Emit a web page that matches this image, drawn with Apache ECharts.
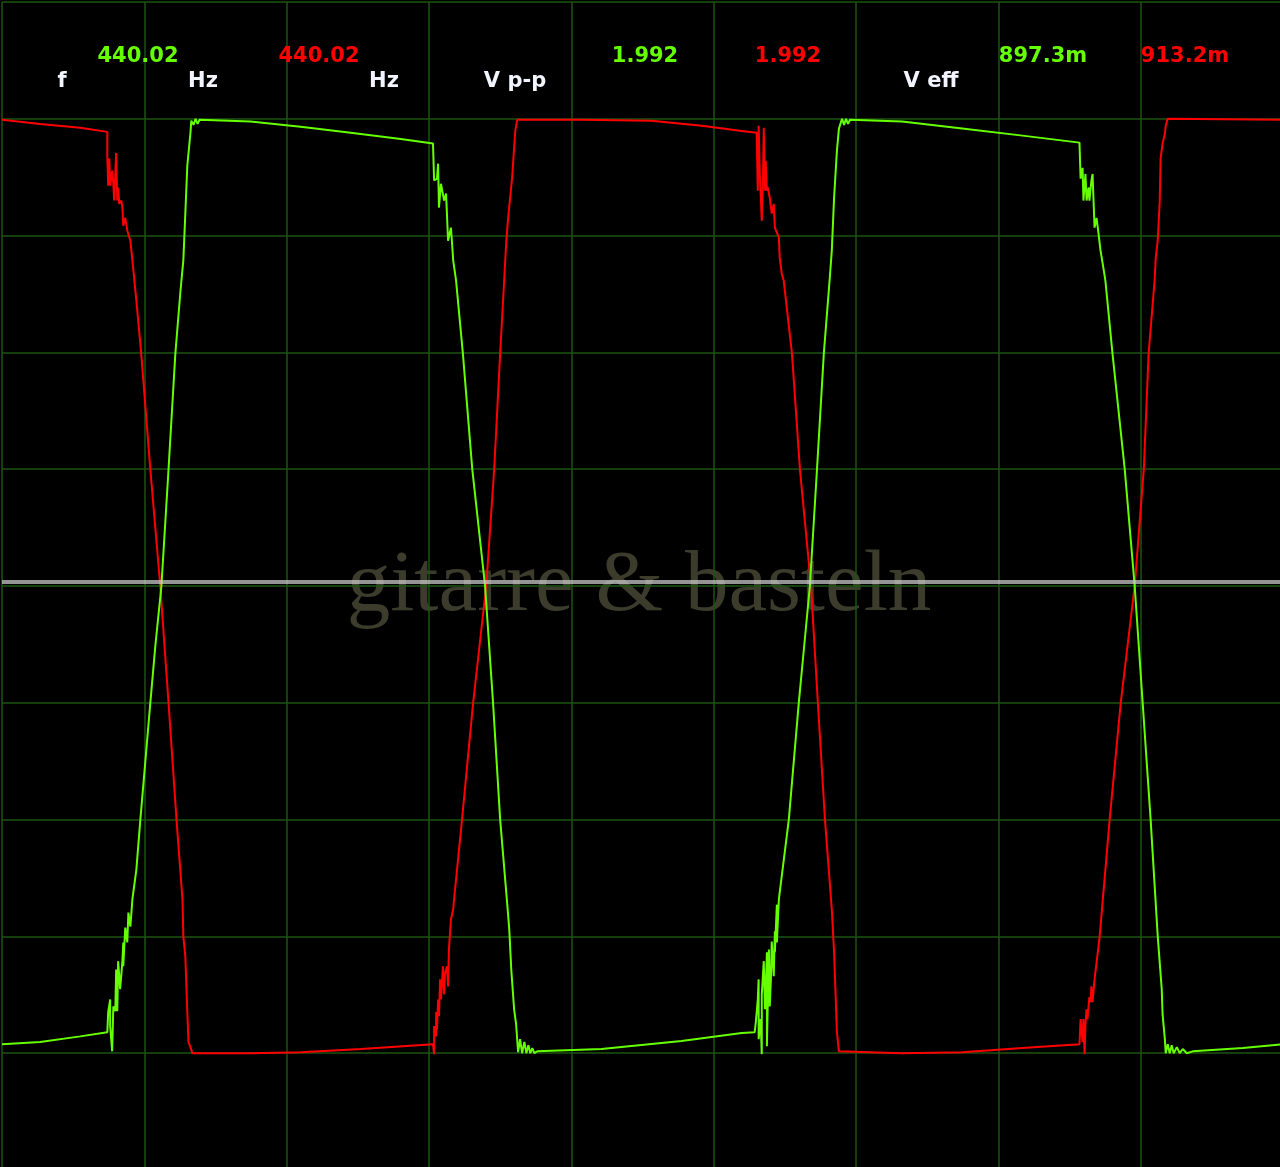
<!DOCTYPE html>
<html>
<head>
<meta charset="utf-8">
<script src="https://cdn.jsdelivr.net/npm/echarts@6/dist/echarts.min.js"></script>
<style>
html,body{margin:0;padding:0;background:#000;overflow:hidden;width:1280px;height:1167px;}
#chart{width:1290px;height:1180px;}
</style>
</head>
<body>
<div id="chart"></div>
<script>
// Time in ms (0.5 ms/div), voltage in V (0.25 V/div)
const greenTrace = [
[0,-0.981],[0.134,-0.976],[0.275,-0.964],[0.370,-0.955],
[0.373,-0.912],[0.380,-0.885],[0.380,-0.942],[0.387,-0.996],[0.391,-0.900],[0.398,-0.910],[0.401,-0.821],[0.405,-0.910],[0.408,-0.803],[0.415,-0.863],[0.423,-0.803],[0.426,-0.763],[0.426,-0.814],[0.433,-0.731],[0.440,-0.763],[0.444,-0.699],[0.451,-0.729],[0.458,-0.671],
[0.472,-0.607],[0.486,-0.500],[0.504,-0.372],[0.521,-0.250],[0.539,-0.126],[0.560,0],[0.585,0.250],[0.609,0.498],[0.627,0.632],[0.637,0.697],[0.641,0.754],[0.644,0.797],[0.651,0.900],[0.662,0.970],[0.665,0.996],[0.673,0.987],[0.680,1.000],[0.687,0.989],[0.694,0.998],
[0.873,0.994],[1.049,0.983],[1.225,0.970],[1.401,0.957],[1.514,0.947],
[1.518,0.868],[1.528,0.872],[1.532,0.904],[1.535,0.810],[1.542,0.861],[1.553,0.825],[1.560,0.840],[1.567,0.739],[1.577,0.767],[1.581,0.733],[1.585,0.697],[1.595,0.654],[1.619,0.498],[1.652,0.250],[1.697,0],[1.725,-0.250],[1.750,-0.500],[1.775,-0.682],[1.782,-0.735],[1.789,-0.821],[1.799,-0.906],[1.806,-0.938],[1.813,-0.998],
[1.820,-0.970],[1.827,-1.000],[1.835,-0.976],[1.842,-1.000],[1.849,-0.983],[1.856,-1.000],[1.863,-0.989],[1.870,-1.000],[1.880,-0.996],
[2.106,-0.991],[2.387,-0.974],[2.599,-0.957],[2.644,-0.955],
[2.648,-0.934],[2.655,-0.885],[2.658,-0.842],[2.658,-0.970],[2.665,-0.927],[2.669,-1.002],[2.669,-0.874],[2.676,-0.803],[2.680,-0.906],[2.683,-0.863],[2.687,-0.784],[2.687,-0.985],[2.694,-0.778],[2.697,-0.900],[2.701,-0.842],[2.704,-0.761],[2.711,-0.835],[2.715,-0.739],[2.715,-0.784],[2.722,-0.682],[2.722,-0.763],[2.729,-0.671],
[2.764,-0.500],[2.799,-0.250],[2.838,0],[2.863,0.250],[2.887,0.498],[2.908,0.660],[2.915,0.718],[2.923,0.831],[2.933,0.932],[2.940,0.979],[2.951,1.000],[2.958,0.987],[2.965,1.000],[2.972,0.989],[2.979,0.998],
[3.162,0.994],[3.373,0.979],[3.585,0.964],[3.785,0.949],
[3.789,0.872],[3.796,0.895],[3.799,0.825],[3.806,0.882],[3.810,0.825],[3.817,0.853],[3.820,0.825],[3.827,0.868],[3.831,0.882],[3.838,0.767],[3.845,0.788],[3.852,0.754],[3.859,0.718],[3.866,0.692],[3.876,0.654],[3.901,0.498],[3.944,0.250],[3.979,0],[4.007,-0.250],[4.035,-0.500],[4.060,-0.750],[4.074,-0.863],[4.077,-0.917],[4.085,-0.970],[4.088,-1.000],
[4.095,-0.981],[4.102,-1.000],[4.109,-0.983],[4.116,-1.000],[4.127,-0.987],[4.137,-1.000],[4.148,-0.991],[4.162,-1.000],[4.183,-0.996],
[4.359,-0.989],[4.5,-0.981]
];

const redTrace = [
[0,0.998],[0.134,0.989],[0.275,0.981],[0.370,0.972],
[0.370,0.917],[0.373,0.857],[0.377,0.915],[0.380,0.857],[0.387,0.889],[0.391,0.861],[0.394,0.825],[0.401,0.927],[0.405,0.825],[0.408,0.853],[0.412,0.818],[0.419,0.825],[0.423,0.810],[0.426,0.771],[0.433,0.788],[0.440,0.761],[0.444,0.765],[0.451,0.739],[0.458,0.697],
[0.472,0.611],[0.489,0.498],[0.521,0.250],[0.556,0],[0.585,-0.250],[0.613,-0.500],[0.634,-0.671],[0.637,-0.750],[0.644,-0.793],[0.651,-0.912],[0.655,-0.976],[0.662,-0.987],[0.669,-1.000],
[0.873,-1.000],[1.049,-0.998],[1.261,-0.991],[1.514,-0.981],
[1.518,-1.002],[1.518,-0.942],[1.525,-0.964],[1.525,-0.912],[1.528,-0.949],[1.532,-0.885],[1.535,-0.921],[1.539,-0.842],[1.542,-0.885],[1.549,-0.814],[1.553,-0.874],[1.556,-0.831],[1.563,-0.814],[1.567,-0.857],[1.570,-0.778],[1.577,-0.714],[1.585,-0.692],[1.588,-0.671],
[1.616,-0.500],[1.655,-0.250],[1.701,0],[1.729,0.250],[1.750,0.498],[1.764,0.654],[1.771,0.733],[1.778,0.788],[1.785,0.831],[1.792,0.874],[1.799,0.938],[1.803,0.974],[1.810,0.998],
[2.035,0.998],[2.282,0.996],[2.458,0.985],[2.599,0.974],[2.651,0.970],
[2.655,0.846],[2.658,0.985],[2.662,0.885],[2.669,0.782],[2.673,0.868],[2.676,0.981],[2.680,0.846],[2.683,0.910],[2.687,0.846],[2.690,0.853],[2.697,0.831],[2.704,0.797],[2.711,0.818],[2.715,0.767],[2.722,0.767],[2.729,0.746],[2.732,0.703],[2.739,0.669],[2.746,0.654],
[2.775,0.498],[2.803,0.250],[2.842,0],[2.866,-0.250],[2.891,-0.500],[2.915,-0.692],[2.923,-0.784],[2.926,-0.835],[2.933,-0.955],[2.940,-0.996],[2.944,-1.000],
[3.162,-1.000],[3.373,-0.998],[3.585,-0.989],[3.785,-0.981],
[3.789,-0.927],[3.796,-0.976],[3.799,-0.927],[3.803,-1.002],[3.806,-0.938],[3.810,-0.906],[3.813,-0.927],[3.820,-0.880],[3.824,-0.891],[3.827,-0.857],[3.831,-0.891],[3.838,-0.842],
[3.856,-0.750],[3.891,-0.500],[3.930,-0.250],[3.979,0],[4.011,0.250],[4.028,0.498],[4.049,0.654],[4.053,0.703],[4.060,0.739],[4.067,0.825],[4.070,0.915],[4.077,0.947],[4.085,0.968],[4.088,0.985],[4.095,1.000],[4.099,0.998],
[4.5,0.998]
];

// Measurement readouts
const measureNames = ['f', 'Hz', 'Hz', 'V p-p', 'V eff'];
const greenReadings = ['440.02', '1.992', '897.3m'];
const redReadings = ['440.02', '1.992', '913.2m'];
const watermarkText = 'gitarre & basteln';

const GREEN = '#66ff00';
const RED = '#ff0000';
const WHITE = '#f2f5ff';
const FONT = 'bold 21px "DejaVu Sans", Verdana, sans-serif';

const nameX = [62, 203, 384, 515, 931];
const greenX = [138, 645, 1043];
const redX = [319, 788, 1185];

const graphics = [];
measureNames.forEach((t, i) => graphics.push({
  type: 'text', z: 10, style: { text: t, x: nameX[i], y: 82, fill: WHITE, font: FONT, textAlign: 'center', textVerticalAlign: 'middle' }
}));
greenReadings.forEach((t, i) => graphics.push({
  type: 'text', z: 10, style: { text: t, x: greenX[i], y: 57, fill: GREEN, font: FONT, textAlign: 'center', textVerticalAlign: 'middle' }
}));
redReadings.forEach((t, i) => graphics.push({
  type: 'text', z: 10, style: { text: t, x: redX[i], y: 57, fill: RED, font: FONT, textAlign: 'center', textVerticalAlign: 'middle' }
}));
graphics.push({
  type: 'text', z: 0,
  style: { text: watermarkText, x: 639, y: 587, fill: '#3b3c2b', font: '87px "Liberation Serif", "Times New Roman", serif', textAlign: 'center', textVerticalAlign: 'middle' }
});

const chart = echarts.init(document.getElementById('chart'), null, { renderer: 'canvas' });
chart.setOption({
  backgroundColor: '#000',
  animation: false,
  grid: { left: 2, top: 2, width: 1281, height: 1168, containLabel: false },
  xAxis: {
    type: 'value', min: 0, max: 4.5, interval: 0.5,
    axisLine: { show: false }, axisTick: { show: false }, axisLabel: { show: false },
    splitLine: { show: true, lineStyle: { color: '#1b5512', width: 1.5 } }
  },
  yAxis: {
    type: 'value', min: -1.25, max: 1.25, interval: 0.25,
    axisLine: { show: false }, axisTick: { show: false }, axisLabel: { show: false },
    splitLine: { show: true, lineStyle: { color: '#1b5512', width: 1.5 } }
  },
  graphic: graphics,
  series: [
    {
      name: 'zero', type: 'line', data: [], z: 1,
      markLine: {
        silent: true, symbol: 'none', label: { show: false },
        lineStyle: { color: 'rgba(205,205,205,0.72)', width: 4, type: 'solid' },
        data: [{ yAxis: 0.0055 }]
      }
    },
    {
      name: 'CH2', type: 'line', data: redTrace, showSymbol: false, z: 3,
      lineStyle: { color: RED, width: 2 }, itemStyle: { color: RED }
    },
    {
      name: 'CH1', type: 'line', data: greenTrace, showSymbol: false, z: 4,
      lineStyle: { color: GREEN, width: 2 }, itemStyle: { color: GREEN }
    }
  ]
});
</script>
</body>
</html>
